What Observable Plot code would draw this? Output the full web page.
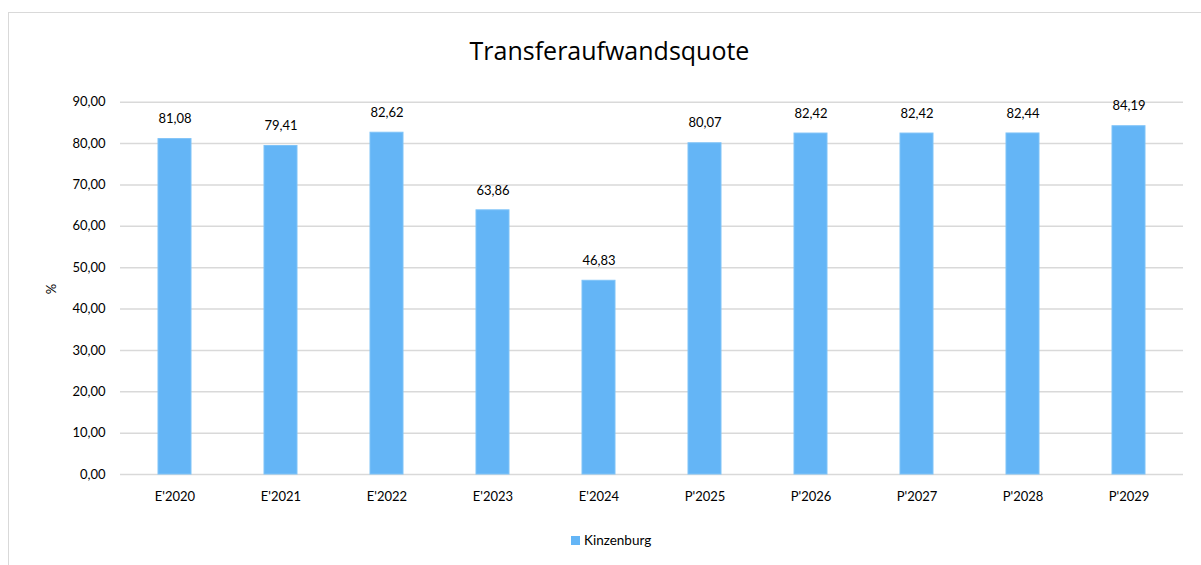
<!DOCTYPE html>
<html><head><meta charset="utf-8">
<script src="https://cdn.jsdelivr.net/npm/d3@7"></script>
<script src="https://cdn.jsdelivr.net/npm/@observablehq/plot@0.6"></script>
<style>
body{margin:0;background:#fff;font-family:Lato,"Liberation Sans",sans-serif;}
#wrap{position:relative;width:1201px;height:565px;overflow:hidden;}
#frame{position:absolute;left:8px;top:12px;width:1300px;height:700px;border:1.5px solid #d9d9d9;box-sizing:border-box;}
#title{position:absolute;top:34px;left:0;width:1219px;text-align:center;font-family:"Open Sans",sans-serif;font-size:25px;color:#000;line-height:32px;}
#chart{position:absolute;top:80px;left:0;}
#legend{position:absolute;top:531px;left:571px;font-size:13.5px;color:#000;line-height:18px;display:flex;align-items:center;}
#legend span.sw{display:inline-block;width:9px;height:9px;background:#64b5f6;margin-right:4px;}
</style></head>
<body>
<div id="wrap">
<div id="frame"></div>
<div id="title">Transferaufwandsquote</div>
<div id="chart"></div>
<div id="legend"><span class="sw"></span><span>Kinzenburg</span></div>
</div>
<script>
const categories = ["E'2020","E'2021","E'2022","E'2023","E'2024","P'2025","P'2026","P'2027","P'2028","P'2029"];
const values = [81.08,79.41,82.62,63.86,46.83,80.07,82.42,82.42,82.44,84.19];
const yTicks = [0,10,20,30,40,50,60,70,80,90];
const seriesName = "Kinzenburg";

const data = categories.map((c,i)=>({cat:c, v:values[i], s:seriesName}));
const fmt = d => d.toFixed(2).replace(".", ",");

const plot = Plot.plot({
  width: 1201,
  height: 440,
  marginTop: 21.7,
  marginBottom: 46,
  marginLeft: 120,
  marginRight: 18,
  style: {fontFamily: "Lato, 'Liberation Sans', sans-serif", fontSize: "13px", color: "#000", background: "transparent"},
  x: {domain: categories, paddingInner: 0.69, paddingOuter: 0.345, label: null},
  y: {domain: [0, 90], ticks: yTicks, label: null},
  marks: [
    Plot.gridY(yTicks, {stroke: "#d9d9d9", strokeOpacity: 1, strokeWidth: 1.5}),
    Plot.barY(data, {x: "cat", y: "v", fill: "#64b5f6", stroke: "#7ec3f8", strokeWidth: 1}),
    Plot.text(data, {x: "cat", y: "v", text: d => fmt(d.v), dy: -20, fontSize: 13, fill: "#000"}),
    Plot.axisX({tickSize: 0, tickPadding: 17, fontSize: 13, label: null}),
    Plot.axisY(yTicks, {tickSize: 0, tickPadding: 15, tickFormat: fmt, fontSize: 13, label: null}),
    Plot.text(["%"], {frameAnchor: "left", dx: -69, dy: 6, rotate: -90, fontSize: 13, fill: "#000"})
  ]
});
document.getElementById("chart").appendChild(plot);
</script>
</body></html>
